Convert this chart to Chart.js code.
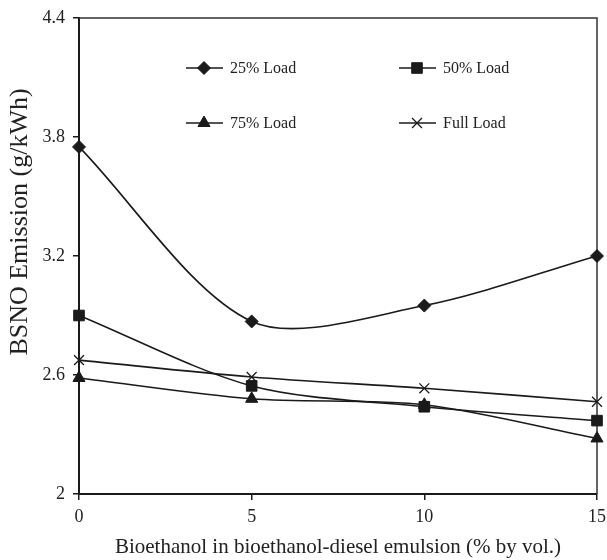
<!DOCTYPE html>
<html>
<head>
<meta charset="utf-8">
<script src="https://cdn.jsdelivr.net/npm/chart.js@4.4.0/dist/chart.umd.min.js"></script>
<style>
  body { margin: 0; background: #fff; }
  canvas { display: block; }
</style>
</head>
<body>
<canvas id="chartNox" width="607" height="560"></canvas>
<script>
// bioethanol share (% by vol.)
const blends = [0, 5, 10, 15];
const load25 = [3.75, 2.87, 2.95, 3.2];
const load50 = [2.9, 2.545, 2.44, 2.37];
const load75 = [2.585, 2.48, 2.45, 2.28];
const loadFull = [2.675, 2.59, 2.533, 2.465];
const seriesNames = ["25% Load", "50% Load", "75% Load", "Full Load"];
const xTicks = [0, 5, 10, 15];
const yTicks = [2, 2.6, 3.2, 3.8, 4.4];
const yTickLabels = ["2", "2.6", "3.2", "3.8", "4.4"];

const ink = "#1a1a1a";
const serif = "'Liberation Serif', 'Times New Roman', serif";

function toPoints(values) {
  return values.map((v, i) => ({ x: blends[i], y: v }));
}

const markers = [
  { pointStyle: "rectRot", radius: 6.5 },
  { pointStyle: "rect", radius: 7.5 },
  { pointStyle: "triangle", radius: 7 },
  { pointStyle: "crossRot", radius: 7 },
];

const datasets = [load25, load50, load75, loadFull].map((vals, i) => ({
  label: seriesNames[i],
  data: toPoints(vals),
  borderColor: ink,
  backgroundColor: ink,
  borderWidth: 1.6,
  pointStyle: markers[i].pointStyle,
  pointRadius: markers[i].radius,
  pointBorderWidth: i === 3 ? 1.3 : 1,
  tension: 0.3,
  clip: false,
}));

// legend drawn inside the plot, 2 x 2 grid
const insideLegend = {
  id: "insideLegend",
  afterDraw(chart) {
    const ctx = chart.ctx;
    const cols = [186, 399];
    const rows = [68, 123];
    ctx.save();
    chart.data.datasets.forEach((ds, i) => {
      const x0 = cols[i % 2];
      const y = rows[Math.floor(i / 2)];
      ctx.strokeStyle = ink;
      ctx.fillStyle = ink;
      ctx.lineWidth = 1.6;
      ctx.beginPath();
      ctx.moveTo(x0, y);
      ctx.lineTo(x0 + 37, y);
      ctx.stroke();
      ctx.lineWidth = ds.pointBorderWidth;
      Chart.helpers.drawPoint(ctx, {
        pointStyle: ds.pointStyle,
        radius: ds.pointRadius,
        rotation: 0,
        borderWidth: ds.pointBorderWidth,
      }, x0 + 18, y);
      ctx.fillStyle = "#222";
      ctx.font = "16px " + serif;
      ctx.textAlign = "left";
      ctx.textBaseline = "middle";
      ctx.fillText(ds.label, x0 + 44, y + 1);
    });
    ctx.restore();
  },
};

// box round the plot and the y title
const frame = {
  id: "frame",
  beforeDatasetsDraw(chart) {
    const a = chart.chartArea;
    const ctx = chart.ctx;
    ctx.save();
    ctx.strokeStyle = "#333";
    ctx.lineWidth = 1.5;
    ctx.beginPath();
    ctx.moveTo(a.left, a.top);
    ctx.lineTo(a.right, a.top);
    ctx.lineTo(a.right, a.bottom);
    ctx.stroke();
    ctx.restore();
  },
  afterDraw(chart) {
    const ctx = chart.ctx;
    ctx.save();
    ctx.translate(20, 222);
    ctx.rotate(-Math.PI / 2);
    ctx.fillStyle = "#222";
    ctx.font = "26px " + serif;
    ctx.textAlign = "center";
    ctx.textBaseline = "middle";
    ctx.fillText("BSNO Emission (g/kWh)", 0, 0);
    ctx.restore();
  },
};

new Chart(document.getElementById("chartNox"), {
  type: "line",
  data: { datasets: datasets },
  options: {
    responsive: false,
    animation: false,
    layout: { padding: { left: 0, right: 10, top: 18, bottom: 0 } },
    plugins: { legend: { display: false }, tooltip: { enabled: false } },
    scales: {
      x: {
        type: "linear",
        min: 0,
        max: 15,
        afterBuildTicks: (s) => { s.ticks = xTicks.map((v) => ({ value: v })); },
        afterFit: (s) => { s.height = 66; s.paddingLeft = 0; s.paddingRight = 0; },
        grid: { drawOnChartArea: false, tickLength: 6, color: ink, lineWidth: 1.5 },
        border: { color: ink, width: 2 },
        ticks: { color: "#222", padding: 6, font: { family: serif, size: 18 } },
        title: {
          display: true,
          text: "Bioethanol in bioethanol-diesel emulsion (% by vol.)",
          color: "#222",
          padding: { top: 0, bottom: 0 },
          font: { family: serif, size: 21 },
        },
      },
      y: {
        min: 2,
        max: 4.4,
        afterBuildTicks: (s) => { s.ticks = yTicks.map((v) => ({ value: v })); },
        afterFit: (s) => { s.width = 79; s.paddingTop = 0; s.paddingBottom = 0; },
        grid: { drawOnChartArea: false, tickLength: 6, color: ink, lineWidth: 1.5 },
        border: { color: ink, width: 2 },
        ticks: {
          color: "#222",
          padding: 8,
          font: { family: serif, size: 18 },
          callback: (v, i) => yTickLabels[i],
        },
      },
    },
  },
  plugins: [insideLegend, frame],
});
</script>
</body>
</html>
